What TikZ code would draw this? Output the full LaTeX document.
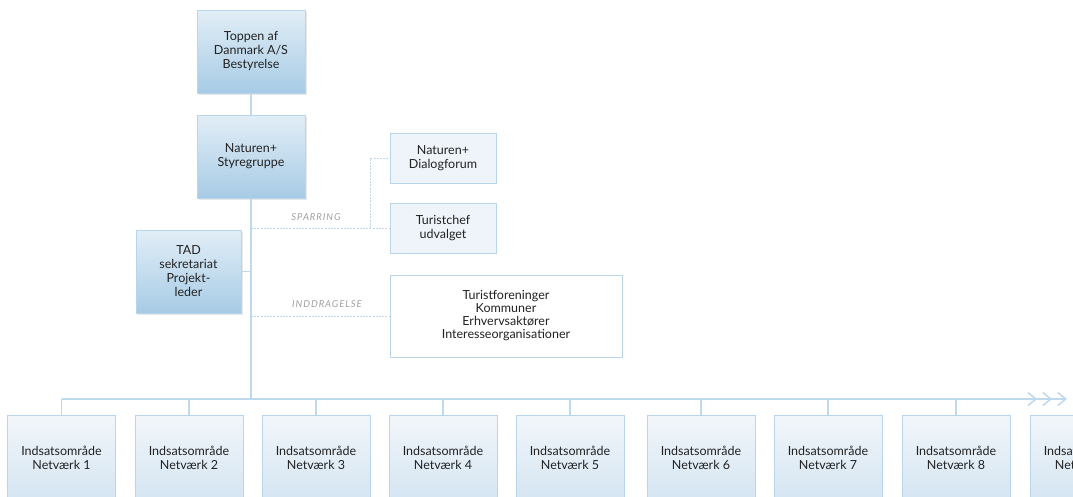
\documentclass[tikz,border=0pt]{standalone}
\usepackage{fontspec}
\setmainfont{Lato}
\usetikzlibrary{shadows,arrows.meta}
\definecolor{ln}{HTML}{BFD9EC}
\definecolor{bd}{HTML}{B9D5EA}
\definecolor{txt}{HTML}{222222}
\definecolor{lblc}{HTML}{A0A0A0}
\definecolor{gtop}{HTML}{E2EEF7}
\definecolor{gbot}{HTML}{A7CBE5}
\definecolor{pale}{HTML}{EEF4F9}
\definecolor{ntop}{HTML}{F2F6FA}
\definecolor{nbot}{HTML}{D4E5F2}
\tikzset{
  conn/.style={draw=ln, line width=1.1pt},
  dconn/.style={draw=ln, line width=0.9pt, dash pattern=on 2pt off 1.2pt},
  txtfont/.style={text=txt, font=\fontsize{12.5}{14}\selectfont},
  bluebox/.style={rectangle, draw=bd, line width=0.6pt, top color=gtop, bottom color=gbot,
     minimum width=108pt, minimum height=83pt, align=center, txtfont,
     drop shadow={shadow xshift=2pt, shadow yshift=-2pt, opacity=0.18, fill=gray}},
  palebox/.style={rectangle, draw=bd, line width=0.6pt, fill=pale,
     minimum width=106pt, minimum height=50pt, align=center, txtfont},
  whitebox/.style={rectangle, draw=bd, line width=0.6pt, fill=white,
     minimum width=232pt, minimum height=82pt, align=center, text=txt,
     font=\fontsize{12.5}{13}\selectfont},
  netbox/.style={rectangle, draw=bd, line width=0.6pt, top color=ntop, bottom color=nbot,
     minimum width=108pt, minimum height=86pt, align=center, txtfont},
  lbl/.style={text=lblc, font=\fontsize{9.5}{11}\selectfont\itshape\addfontfeature{LetterSpace=10}},
  chev/.style={-{Straight Barb[length=8pt,width=13pt,line width=1.5pt,sep=5pt]Straight Barb[length=8pt,width=13pt,line width=1.5pt,sep=5pt]Straight Barb[length=8pt,width=13pt,line width=1.5pt]}},
}
\begin{document}
\begin{tikzpicture}[x=1pt,y=-1pt]
\useasboundingbox (0,0) rectangle (1073,496);
\clip (0,0) rectangle (1073,496);
\fill[white] (0,0) rectangle (1073,496);

% main column
\node[bluebox] (top) at (251,51.5) {Toppen af\\Danmark A/S\\Bestyrelse};
\node[bluebox] (sty) at (251,156.5) {Naturen+\\Styregruppe};
\node[bluebox, minimum width=105pt] (tad) at (188.5,271.5) {TAD\\sekretariat\\Projekt-\\leder};

% side boxes
\node[palebox] (dia) at (443,158) {Naturen+\\Dialogforum};
\node[palebox] (tur) at (443,228) {Turistchef\\udvalget};
\node[whitebox] (ind) at (506,316) {Turistforeninger\\Kommuner\\Erhvervsaktører\\Interesseorganisationer};

% network boxes
\foreach \i/\x in {1/61.5,2/189,3/316,4/443,5/570,6/701,7/828,8/956,9/1084}{
  \node[netbox] (n\i) at (\x,458) {Indsatsområde\\Netværk \i};
}

% connectors
\coordinate (bus) at (251,399);
\coordinate (busL) at (61.5,399);
\coordinate (busR) at (1067,399);
\draw[conn] (top.south) -- (sty.north);
\draw[conn] (sty.south) -- (bus);
\draw[conn] (tad.east) -- (tad.east -| bus);
\draw[conn, chev] (busL) -- (busR);
\foreach \i in {1,...,9}{
  \draw[conn] (n\i.north) -- (n\i.north |- bus);
}

% dashed relations
\coordinate (sp) at (251,228);
\coordinate (bend) at (370,228);
\coordinate (ip) at (251,316);
\draw[dconn] (sp) -- (tur.west);
\draw[dconn] (bend) |- (dia.west);
\draw[dconn] (ip) -- (ind.west);
\node[lbl] (sparlbl) at (316,217) {SPARRING};
\node[lbl] (indlbl) at (327,304) {INDDRAGELSE};
\end{tikzpicture}
\end{document}
